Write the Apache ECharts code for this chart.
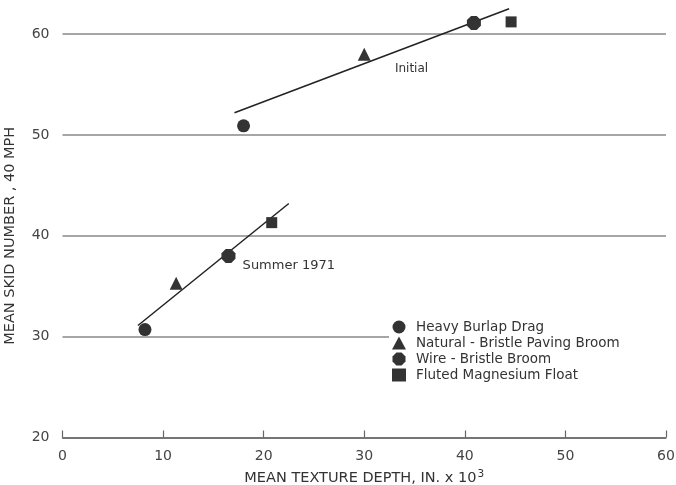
<!DOCTYPE html>
<html>
<head>
<meta charset="utf-8">
<script src="https://cdn.jsdelivr.net/npm/echarts@6/dist/echarts.min.js"></script>
<style>
  html, body { margin: 0; padding: 0; background: #fff; }
  #chart { width: 676px; height: 485px; }
</style>
</head>
<body>
<div id="chart"></div>
<script>
// Finishing methods, one scatter series each
const finishes = [
  'Heavy Burlap Drag',
  'Natural - Bristle Paving Broom',
  'Wire - Bristle Broom',
  'Fluted Magnesium Float'
];

// Initial measurements (texture depth in 0.001 in., skid number at 40 mph)
const initialDepth = [18.0, 30.0, 40.9, 44.6];
const initialSkid = [50.9, 58.0, 61.1, 61.2];

// Summer 1971 measurements
const summerDepth = [8.2, 11.3, 16.5, 20.8];
const summerSkid = [30.7, 35.3, 38.0, 41.3];

// Fitted trend line end points
const initialFitDepth = [17.1, 44.4];
const initialFitSkid = [52.2, 62.5];
const summerFitDepth = [7.5, 22.5];
const summerFitSkid = [31.1, 43.2];

// Axis ticks
const xTicks = [0, 10, 20, 30, 40, 50, 60];
const yTicks = [20, 30, 40, 50, 60];

const FONT = 'DejaVu Sans';
const INK = '#333';

const octagon = 'path://M3,0 L7,0 L10,3 L10,7 L7,10 L3,10 L0,7 L0,3 Z';
const symbols = ['circle', 'triangle', octagon, 'rect'];
const symbolSizes = [13, 13, 14, 11];

const pairs = (xs, ys) => xs.map((x, i) => [x, ys[i]]);

const scatterSeries = finishes.map((name, i) => ({
  name: name,
  type: 'scatter',
  symbol: symbols[i],
  symbolSize: symbolSizes[i],
  clip: false,
  itemStyle: { color: INK, opacity: 1 },
  data: [[initialDepth[i], initialSkid[i]], [summerDepth[i], summerSkid[i]]],
  z: 5
}));

const fitLine = (xs, ys, text, at, size) => ({
  type: 'line',
  data: pairs(xs, ys),
  symbol: 'none',
  clip: false,
  silent: true,
  lineStyle: { color: '#222', width: 1.5 },
  markPoint: {
    symbol: 'circle',
    symbolSize: 0,
    silent: true,
    label: {
      show: true,
      formatter: text,
      color: INK,
      fontFamily: FONT,
      fontSize: size
    },
    data: [{ coord: at }]
  },
  z: 4
});

const chart = echarts.init(document.getElementById('chart'));
chart.setOption({
  animation: false,
  backgroundColor: '#fff',
  textStyle: { fontFamily: FONT },
  grid: { left: 62.5, right: 10, top: 34, bottom: 47.5, containLabel: false, outerBoundsMode: 'none' },
  legend: {
    data: finishes,
    orient: 'vertical',
    left: 389,
    top: 317,
    itemWidth: 14,
    itemHeight: 13,
    itemGap: 2,
    padding: [3, 120, 3, 3],
    backgroundColor: '#fff',
    textStyle: {
      color: INK,
      fontFamily: FONT,
      fontSize: 13.5,
      padding: [0, 0, 0, 5]
    }
  },
  xAxis: {
    type: 'value',
    min: xTicks[0],
    max: xTicks[xTicks.length - 1],
    interval: 10,
    name: '{a|MEAN TEXTURE DEPTH, IN. x 10}{s|3}',
    nameLocation: 'middle',
    nameGap: 31,
    nameTextStyle: {
      rich: {
        a: { fontFamily: FONT, fontSize: 14.5, color: INK },
        s: { fontFamily: FONT, fontSize: 10.5, color: INK, verticalAlign: 'top', padding: [0, 0, 9, 1] }
      }
    },
    axisLine: { show: true, lineStyle: { color: '#666', width: 1.5 } },
    axisTick: { show: true, inside: true, length: 7, lineStyle: { color: '#666', width: 1.2 } },
    axisLabel: { color: '#444', fontSize: 14, fontFamily: FONT, margin: 12 },
    splitLine: { show: false }
  },
  yAxis: {
    type: 'value',
    min: yTicks[0],
    max: yTicks[yTicks.length - 1],
    interval: 10,
    name: 'MEAN SKID NUMBER , 40 MPH',
    nameLocation: 'middle',
    nameGap: 45,
    nameTextStyle: { color: INK, fontFamily: FONT, fontSize: 14.5 },
    axisLine: { show: false },
    axisTick: { show: false },
    axisLabel: { color: '#444', fontSize: 14, fontFamily: FONT, margin: 13 },
    splitLine: { show: true, lineStyle: { color: '#888', width: 1.5 } }
  },
  series: [
    ...scatterSeries,
    fitLine(initialFitDepth, initialFitSkid, 'Initial', [34.7, 56.5], 12),
    fitLine(summerFitDepth, summerFitSkid, 'Summer 1971', [22.5, 37.0], 13)
  ]
});
</script>
</body>
</html>
